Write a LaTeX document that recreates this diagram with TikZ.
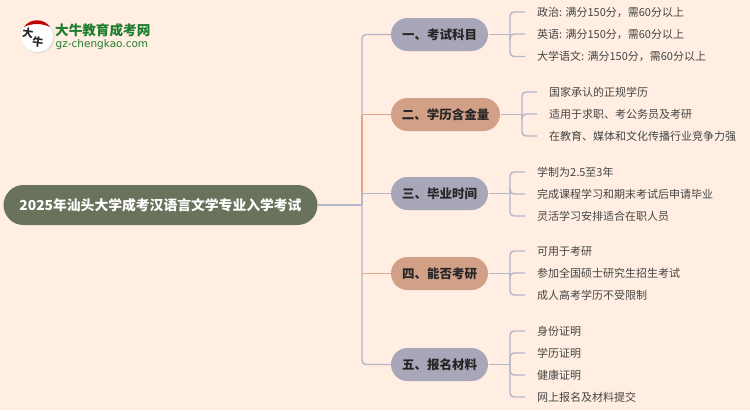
\documentclass[tikz,border=0pt]{standalone}
\usepackage{fontspec}
\setmainfont{Noto Sans CJK SC}
\newfontfamily\logolat{DejaVu Sans}
\usetikzlibrary{calc}
\definecolor{bgc}{HTML}{FFEEE1}
\definecolor{rootc}{HTML}{69735B}
\definecolor{purp}{HTML}{A8A7B9}
\definecolor{tan}{HTML}{D1A087}
\definecolor{lnp}{HTML}{B4B5CB}
\definecolor{lnt}{HTML}{DDA88C}
\definecolor{txt}{HTML}{444444}
\definecolor{grn}{HTML}{1E7D2E}
\tikzset{
 x=1pt,y=-1pt,
 rootbox/.style={draw=none,fill=rootc,rounded corners=20pt,minimum height=40pt,text=white,font=\fontsize{13.8}{16}\selectfont\bfseries,inner sep=0pt},
 topic/.style={rounded corners=16.5pt,minimum height=33pt,text=black!85,font=\fontsize{12.5}{16}\selectfont\bfseries,inner sep=0pt},
 purptopic/.style={topic,fill=purp},
 tantopic/.style={topic,fill=tan},
 leaf/.style={anchor=west,text=txt,font=\fontsize{11}{14}\selectfont,inner sep=0pt},
 lnk/.style={draw=lnp,line width=1.4pt,rounded corners=4pt},
 lnkt/.style={draw=lnt,line width=1.4pt,rounded corners=4pt},
}
\begin{document}
\begin{tikzpicture}
\useasboundingbox (0,0) rectangle (750,410);
\fill[bgc] (0,0) rectangle (750,410);
% root and topics
\node[rootbox,minimum width=314pt] (root) at (160.5,205) {2025年汕头大学成考汉语言文学专业入学考试};
\node[purptopic,minimum width=97pt] (t1) at (439.5,34.5) {一、考试科目};
\node[tantopic,minimum width=109pt] (t2) at (445.5,114.5) {二、学历含金量};
\node[purptopic,minimum width=97pt] (t3) at (439.5,193.5) {三、毕业时间};
\node[tantopic,minimum width=97pt] (t4) at (439.5,273.5) {四、能否考研};
\node[purptopic,minimum width=97pt] (t5) at (439.5,364.5) {五、报名材料};
% trunk
\coordinate (jn) at (362,205);
\coordinate (k2) at (362,114.5);
\coordinate (k3) at (362,193.5);
\coordinate (k4) at (362,273.5);
\draw[lnkt] (k2) -- (k3);
\draw[lnkt] (k2) -- (t2.west);
\draw[lnk] (root.east) -- (jn);
\draw[lnk] (k2) -- (362,34.5) -- (t1.west);
\draw[lnk] (k3) -- (jn);
\draw[lnk] (k3) -- (t3.west);
\draw[lnk] (jn) -- (362,364.5) -- (t5.west);
\draw[lnkt] (k4) -- (t4.west);
% leaves
\node[leaf] (a1) at (537,12) {政治: 满分150分，需60分以上};
\node[leaf] (a2) at (537,34) {英语: 满分150分，需60分以上};
\node[leaf] (a3) at (537,56.5) {大学语文: 满分150分，需60分以上};
\node[leaf] (b1) at (549,92) {国家承认的正规学历};
\node[leaf] (b2) at (549,114) {适用于求职、考公务员及考研};
\node[leaf] (b3) at (549,136) {在教育、媒体和文化传播行业竞争力强};
\node[leaf] (c1) at (537,172) {学制为2.5至3年};
\node[leaf] (c2) at (537,194) {完成课程学习和期末考试后申请毕业};
\node[leaf] (c3) at (537,216) {灵活学习安排适合在职人员};
\node[leaf] (d1) at (537,251) {可用于考研};
\node[leaf] (d2) at (537,273) {参加全国硕士研究生招生考试};
\node[leaf] (d3) at (537,295) {成人高考学历不受限制};
\node[leaf] (e1) at (537,331) {身份证明};
\node[leaf] (e2) at (537,353) {学历证明};
\node[leaf] (e3) at (537,375) {健康证明};
\node[leaf] (e4) at (537,397) {网上报名及材料提交};
% brackets
\foreach \t/\bx/\lst in {t1/510/{a1,a2,a3},t2/522/{b1,b2,b3},t3/510/{c1,c2,c3},t4/510/{d1,d2,d3},t5/510/{e1,e2,e3,e4}}{
  \draw[lnk] ($(\t.east)+(1,0)$) -- (\bx,0 |- \t.east);
  \foreach \l in \lst {
    \draw[lnk] (\bx,0 |- \t.east) |- ($(\l.west)+(-12,0)$);
  }
}
% logo
\fill[black!12] (38,37) circle (16.5);
\fill[white] (37,36) circle (16);
\fill[white] (36,44) -- (47,51) -- (44,42) -- cycle;
\fill[red!75!black] (24,27) .. controls (30,18) and (44,18) .. (50,27) .. controls (42,23) and (32,23) .. (24,27) -- cycle;
\node[inner sep=0pt,font=\fontsize{11}{11}\selectfont\bfseries,text=black!85,rotate=-8] (lg1) at (28,33.5) {大};
\node[inner sep=0pt,font=\fontsize{11}{11}\selectfont\bfseries,text=black!85,rotate=-8] (lg2) at (38,42.5) {牛};
\node[inner sep=0pt,anchor=west,font=\fontsize{13.6}{14}\selectfont\bfseries,text=grn] (lg3) at (55,30) {大牛教育成考网};
\node[inner sep=0pt,anchor=west,font=\logolat\fontsize{10.5}{12}\selectfont,text=grn] (lg4) at (55.5,44.5) {gz-chengkao.com};
\end{tikzpicture}
\end{document}
